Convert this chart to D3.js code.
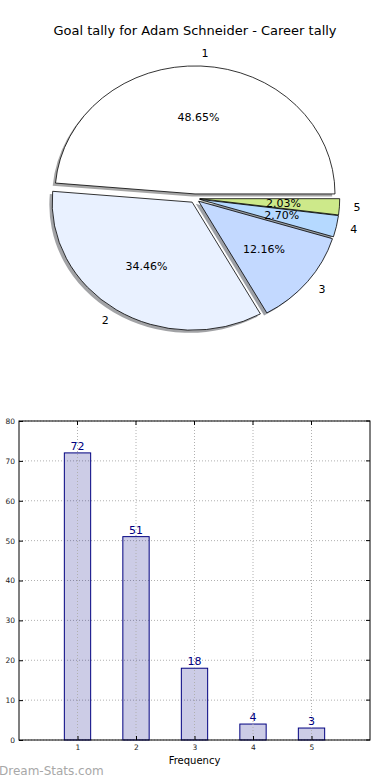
<!DOCTYPE html>
<html><head><meta charset="utf-8">
<script src="https://cdn.jsdelivr.net/npm/d3@7"></script>
<style>html,body{margin:0;padding:0;background:#fff;}svg{display:block;font-family:"DejaVu Sans",sans-serif;}</style>
</head><body>
<script>
const categories = ["1","2","3","4","5"];
const values = [72, 51, 18, 4, 3];
const sliceColors = ["#ffffff", "#e9f1ff", "#c3d9ff", "#b5d9ff", "#cde98a"];
const yTicks = [0,10,20,30,40,50,60,70,80];
const titleText = "Goal tally for Adam Schneider - Career tally";

const W = 390, H = 780;
const svg = d3.select("body").append("svg").attr("width", W).attr("height", H);

svg.append("text").attr("x", 195).attr("y", 35).attr("text-anchor","middle")
  .attr("font-size", 13).attr("fill","#000").text(titleText);

// ---- Pie ----
const cx = 194.8, cy = 198.4, rx = 140, ry = 128, ex = 0.035;
const total = d3.sum(values);
const pie = d3.pie().sort(null).startAngle(Math.PI/2).endAngle(Math.PI/2 - 2*Math.PI);
const arcs = pie(values);
const arcGen = d3.arc().innerRadius(0).outerRadius(rx);
const sy = ry/rx;
function offs(d){
  const m = (d.startAngle + d.endAngle)/2;
  return [Math.sin(m), -Math.cos(m)];
}
const gPie = svg.append("g");
arcs.forEach((d,i)=>{
  const [ux,uy] = offs(d);
  const ox = cx + ex*rx*ux - 2.8, oy = cy + ex*ry*uy + 2.6;
  const c = d3.rgb(sliceColors[i]);
  gPie.append("path").attr("d", arcGen(d))
    .attr("transform", `translate(${ox},${oy}) scale(1,${sy})`)
    .attr("fill", d3.rgb(c.r*0.3, c.g*0.3, c.b*0.3)).attr("fill-opacity", 0.5);
});
arcs.forEach((d,i)=>{
  const [ux,uy] = offs(d);
  const ox = cx + ex*rx*ux, oy = cy + ex*ry*uy;
  gPie.append("path").attr("d", arcGen(d))
    .attr("transform", `translate(${ox},${oy}) scale(1,${sy})`)
    .attr("fill", sliceColors[i]).attr("stroke","#000").attr("stroke-width",0.8)
    .attr("vector-effect","non-scaling-stroke").attr("stroke-linejoin","round");
  gPie.append("text").attr("x", ox + 0.6*rx*ux).attr("y", oy + 0.6*ry*uy)
    .attr("text-anchor","middle").attr("dominant-baseline","central")
    .attr("font-size", 11).text((values[i]/total*100).toFixed(2) + "%");
  gPie.append("text").attr("x", ox + 1.1*rx*ux).attr("y", oy + 1.1*ry*uy)
    .attr("text-anchor", ux > 0 ? "start" : "end").attr("dominant-baseline","central")
    .attr("font-size", 11).text(categories[i]);
});

// ---- Bar chart ----
const L = 19, R = 370, T = 421, B = 740;
const x = d3.scaleLinear().domain([0,6]).range([L,R]);
const y = d3.scaleLinear().domain([0,80]).range([B,T]);
const gb = svg.append("g");
const xt = categories.map(Number);
gb.selectAll(".hg").data(yTicks).enter().append("line")
  .attr("x1",L).attr("x2",R).attr("y1",d=>y(d)).attr("y2",d=>y(d))
  .attr("stroke","#b0b0b0").attr("stroke-width",1).attr("stroke-dasharray","1,2");
const bw = 0.45;
gb.selectAll(".bar").data(values).enter().append("rect")
  .attr("x",(d,i)=>x(xt[i]-bw/2)).attr("width",(d,i)=>x(xt[i]+bw/2)-x(xt[i]-bw/2))
  .attr("y",d=>y(d)).attr("height",d=>y(0)-y(d))
  .attr("fill","#000080").attr("fill-opacity",0.2).attr("stroke","#000080").attr("stroke-width",1);
gb.selectAll(".vg").data(xt).enter().append("line")
  .attr("y1",T).attr("y2",B).attr("x1",d=>x(d)).attr("x2",d=>x(d))
  .attr("stroke","#b0b0b0").attr("stroke-width",1).attr("stroke-dasharray","1,2");
gb.selectAll(".bl").data(values).enter().append("text")
  .attr("x",(d,i)=>x(xt[i])).attr("y",d=>y(d)-3).attr("text-anchor","middle")
  .attr("font-size",11).attr("fill","#000080").text(d=>d);
gb.append("rect").attr("x",L).attr("y",T).attr("width",R-L).attr("height",B-T)
  .attr("fill","none").attr("stroke","#000").attr("stroke-width",1);
const ya = d3.axisLeft(y).tickValues(yTicks).tickSize(-4).tickPadding(4);
const yg = gb.append("g").attr("transform",`translate(${L},0)`).call(ya);
const xa = d3.axisBottom(x).tickValues(xt).tickSize(-4).tickPadding(5).tickFormat(d3.format("d"));
const xg = gb.append("g").attr("transform",`translate(0,${B})`).call(xa);
[yg,xg].forEach(g=>{
  g.select(".domain").remove();
  g.selectAll("text").attr("font-size",7.5).attr("fill","#222").attr("font-family","DejaVu Sans");
  g.selectAll("line").attr("stroke","#000");
});
gb.selectAll(".rt").data(yTicks).enter().append("line")
  .attr("x1",R).attr("x2",R-4).attr("y1",d=>y(d)).attr("y2",d=>y(d)).attr("stroke","#000");
gb.selectAll(".tt").data(xt).enter().append("line")
  .attr("y1",T).attr("y2",T+4).attr("x1",d=>x(d)).attr("x2",d=>x(d)).attr("stroke","#000");
gb.append("text").attr("x",(L+R)/2).attr("y",764).attr("text-anchor","middle")
  .attr("font-size",10).text("Frequency");
svg.append("text").attr("x",-1).attr("y",775).attr("font-size",12).attr("fill","#a8a8a8")
  .text("Dream-Stats.com");
</script>
</body></html>
